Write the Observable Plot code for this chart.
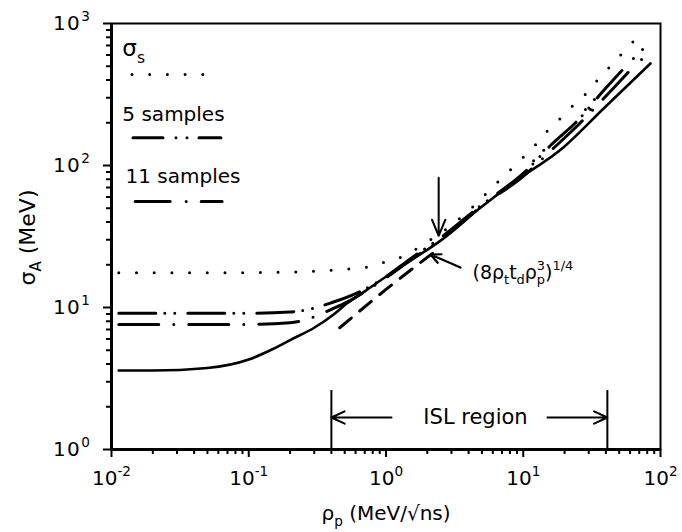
<!DOCTYPE html>
<html><head><meta charset="utf-8">
<script src="https://cdn.jsdelivr.net/npm/d3@7"></script>
<script src="https://cdn.jsdelivr.net/npm/@observablehq/plot@0.6"></script>
<style>
body{margin:0;background:#fff}
#chart svg g[aria-label="x-axis tick label"]{font-size:20px}
#chart svg g[aria-label="y-axis tick label"]{font-size:20px;letter-spacing:1.5px}
</style>
</head><body><div id="chart"></div>
<script>
// ---- ticks ----
const xTicks = [0.01, 0.1, 1, 10, 100];
const yTicks = [1, 10, 100, 1000];
const xMinor = [0.02,0.03,0.04,0.05,0.06,0.07,0.08,0.09,0.2,0.3,0.4,0.5,0.6,0.7,0.8,0.9,2,3,4,5,6,7,8,9,20,30,40,50,60,70,80,90];
const yMinor = [2,3,4,5,6,7,8,9,20,30,40,50,60,70,80,90,200,300,400,500,600,700,800,900];

// ---- series ----
const sigmaSX = [0.0113, 0.1, 0.3, 0.5, 0.7, 0.9, 1.2, 1.5, 2, 3, 4, 5, 6.1, 7.7, 9.4, 11.7, 14.1, 17.5, 21.4, 27, 32.5, 39.8, 48.6, 59.4, 74];
const sigmaSY = [17.6, 17.6, 18, 18.6, 19.1, 20.4, 22, 24.4, 29, 38, 48, 59, 72, 89, 108, 132, 165, 201, 248, 301, 372, 459, 567, 700, 864];
const sigmaS2X = [11.9, 14.1, 28.4, 30.9, 33.0, 63.5, 72.8, 74];
const sigmaS2Y = [108, 128, 248, 248, 292, 568, 557, 656];
const five_X = [0.0113, 0.1, 0.2, 0.3, 0.4, 0.63, 1, 1.5, 2.5, 5, 10, 16, 25, 38.5, 54];
const five_Y = [9.1, 9.1, 9.3, 9.9, 10.8, 12.8, 16.5, 22, 31, 53, 88, 140, 208, 337, 482];
const eleven_X = [0.0113, 0.1, 0.2, 0.3, 0.4, 0.52, 0.7, 1, 1.5, 2.5, 5, 10, 16, 25, 38.5, 58];
const eleven_Y = [7.6, 7.6, 7.8, 8.6, 9.7, 10.9, 12.9, 16.2, 21.5, 30, 52, 84, 128, 192, 296, 452];
const solidX = [0.0113, 0.02, 0.05, 0.1, 0.15, 0.2, 0.3, 0.42, 0.52, 0.7, 0.91, 1.2, 1.58, 2.5, 4.9, 8.5, 19.6, 38.5, 84.5];
const solidY = [3.6, 3.6, 3.75, 4.3, 5.1, 5.9, 7.2, 9.0, 10.7, 13, 15.5, 18.5, 22, 29.6, 50.6, 76, 134, 252, 523];
const asymX = [0.46, 1.0, 2.3];
const asymY = [7.2, 13.4, 25];

// ---- labels ----
const legendLabels = ["σ_{s}", "5 samples", "11 samples"];
const formulaLabel = "(8ρ_{t}t_{d}ρ_{p}^{3})^{1/4}";
const islLabel = "ISL region";
const xTitle = "ρ_{p} (MeV/√ns)";
const yTitle = "σ_{A} (MeV)";
const islBounds = [0.4, 41];

const expLabel = d => `10^{${Math.round(Math.log10(d))}}`;

const chart = Plot.plot({
  width: 682, height: 532,
  marginTop: 23, marginRight: 22, marginBottom: 83, marginLeft: 111,
  x: {type: "log", domain: [0.01, 100], label: null},
  y: {type: "log", domain: [1, 1000], label: null},
  style: {fontFamily: "'DejaVu Sans', sans-serif", fontSize: "19px", color: "black", background: "white"},
  marks: [
    // curves
    Plot.line(sigmaSX, {x: sigmaSX, y: sigmaSY, curve: "monotone-x", stroke: "black", strokeWidth: 3, strokeDasharray: "0 17.7", strokeLinecap: "round"}),
    Plot.dot(sigmaS2X, {x: sigmaS2X, y: sigmaS2Y, r: 1.5, fill: "black", stroke: null}),
    Plot.line(five_X, {x: five_X, y: five_Y, curve: "monotone-x", stroke: "black", strokeWidth: 3, strokeDasharray: "37 9 0 10 0 13", strokeLinecap: "round"}),
    Plot.line(eleven_X, {x: eleven_X, y: eleven_Y, curve: "monotone-x", stroke: "black", strokeWidth: 3, strokeDasharray: "40 15 0 15", strokeLinecap: "round"}),
    Plot.line(solidX, {x: solidX, y: solidY, curve: "monotone-x", stroke: "black", strokeWidth: 2.6}),
    Plot.line(asymX, {x: asymX, y: asymY, curve: "monotone-x", stroke: "black", strokeWidth: 3, strokeDasharray: "15 11"}),

    // ISL region
    Plot.ruleX(islBounds, {y1: 1, y2: 2.6, stroke: "black", strokeWidth: 2}),
    Plot.arrow([0], {x1: 1.097, x2: islBounds[0], y1: 1.68, y2: 1.68, stroke: "black", strokeWidth: 2, headLength: 11, headAngle: 50}),
    Plot.arrow([0], {x1: 15.0, x2: islBounds[1], y1: 1.68, y2: 1.68, stroke: "black", strokeWidth: 2, headLength: 11, headAngle: 50}),
    Plot.text([islLabel], {x: 4.49, y: 1.68, text: d => d, fontSize: 21, lineAnchor: "middle"}),

    // annotation arrows
    Plot.arrow([0], {x1: 2.42, x2: 2.42, y1: 82, y2: 32, stroke: "black", strokeWidth: 2, headLength: 13, headAngle: 45}),
    Plot.arrow([0], {x1: 3.49, y1: 19.1, x2: 2.11, y2: 23.6, stroke: "black", strokeWidth: 2.2, headLength: 11, headAngle: 50}),
    Plot.text([formulaLabel], {x: 4.27, y: 17.6, text: d => d, fontSize: 19, textAnchor: "start", lineAnchor: "middle"}),

    // legend
    Plot.text([legendLabels[0]], {x: 0.0120, y: 667, text: d => d, fontSize: 23, textAnchor: "start", lineAnchor: "middle"}),
    Plot.ruleY([437], {x1: 0.01422, x2: 0.0475, stroke: "black", strokeWidth: 3, strokeDasharray: "0 17.7", strokeLinecap: "round"}),
    Plot.text([legendLabels[1]], {x: 0.0120, y: 228, text: d => d, fontSize: 20, textAnchor: "start", lineAnchor: "middle"}),
    Plot.ruleY([157], {x1: 0.01446, x2: 0.0632, stroke: "black", strokeWidth: 3, strokeDasharray: "30 13 0 11 0 12 30", strokeLinecap: "round"}),
    Plot.text([legendLabels[2]], {x: 0.01265, y: 83.8, text: d => d, fontSize: 20, textAnchor: "start", lineAnchor: "middle"}),
    Plot.ruleY([55.7], {x1: 0.0150, x2: 0.0645, stroke: "black", strokeWidth: 3, strokeDasharray: "35 16 0 15 30", strokeLinecap: "round"}),

    // axes
    Plot.axisX(xMinor, {tickSize: 5, strokeWidth: 2, tickFormat: () => "", label: null}),
    Plot.axisX(xTicks, {tickSize: 8, tickPadding: 13, strokeWidth: 2, tickFormat: expLabel, label: null}),
    Plot.axisY(yMinor, {tickSize: 5, strokeWidth: 2, tickFormat: () => "", label: null}),
    Plot.axisY(yTicks, {tickSize: 8, tickPadding: 12, strokeWidth: 2, tickFormat: expLabel, label: null}),
    Plot.text([xTitle], {frameAnchor: "bottom", dy: 64, text: d => d, fontSize: 20, textAnchor: "middle", lineAnchor: "middle"}),
    Plot.text([yTitle], {frameAnchor: "left", dx: -84, dy: 1, rotate: -90, text: d => d, fontSize: 22, textAnchor: "middle", lineAnchor: "middle"}),

    // frame
    Plot.frame({stroke: "black", strokeWidth: 2}),
    Plot.ruleX([0.01], {stroke: "black", strokeWidth: 3}),
    Plot.ruleY([1], {stroke: "black", strokeWidth: 3})
  ]
});

document.getElementById("chart").append(chart);

// rich text: _{sub} and ^{sup}
function richify(root) {
  const ns = "http://www.w3.org/2000/svg";
  root.querySelectorAll("text").forEach(t => {
    const s = t.textContent;
    if (!/[_^]\{/.test(s)) return;
    const fs = parseFloat(getComputedStyle(t).fontSize) || 16;
    while (t.firstChild) t.removeChild(t.firstChild);
    const re = /([_^])\{([^}]*)\}|([^_^]+)/g;
    let m, shift = 0, prev = null, prevKind = null;
    while ((m = re.exec(s))) {
      const ts = document.createElementNS(ns, "tspan");
      const kind = m[3] !== undefined ? "n" : (m[1] === "^" ? "sup" : "sub");
      const txt = kind === "n" ? m[3] : m[2];
      const target = kind === "sup" ? -0.45 * fs : kind === "sub" ? 0.3 * fs : 0;
      const dy = target - shift; shift = target;
      if (dy) ts.setAttribute("dy", dy.toFixed(2));
      if (kind !== "n") ts.setAttribute("font-size", (0.68 * fs).toFixed(1));
      ts.textContent = txt;
      t.appendChild(ts);
      if (kind === "sup" && prevKind === "sub" && prev) {
        ts.setAttribute("dx", (-prev.getComputedTextLength()).toFixed(2));
      }
      prev = ts; prevKind = kind;
    }
  });
}
richify(chart);
</script>
</body></html>
